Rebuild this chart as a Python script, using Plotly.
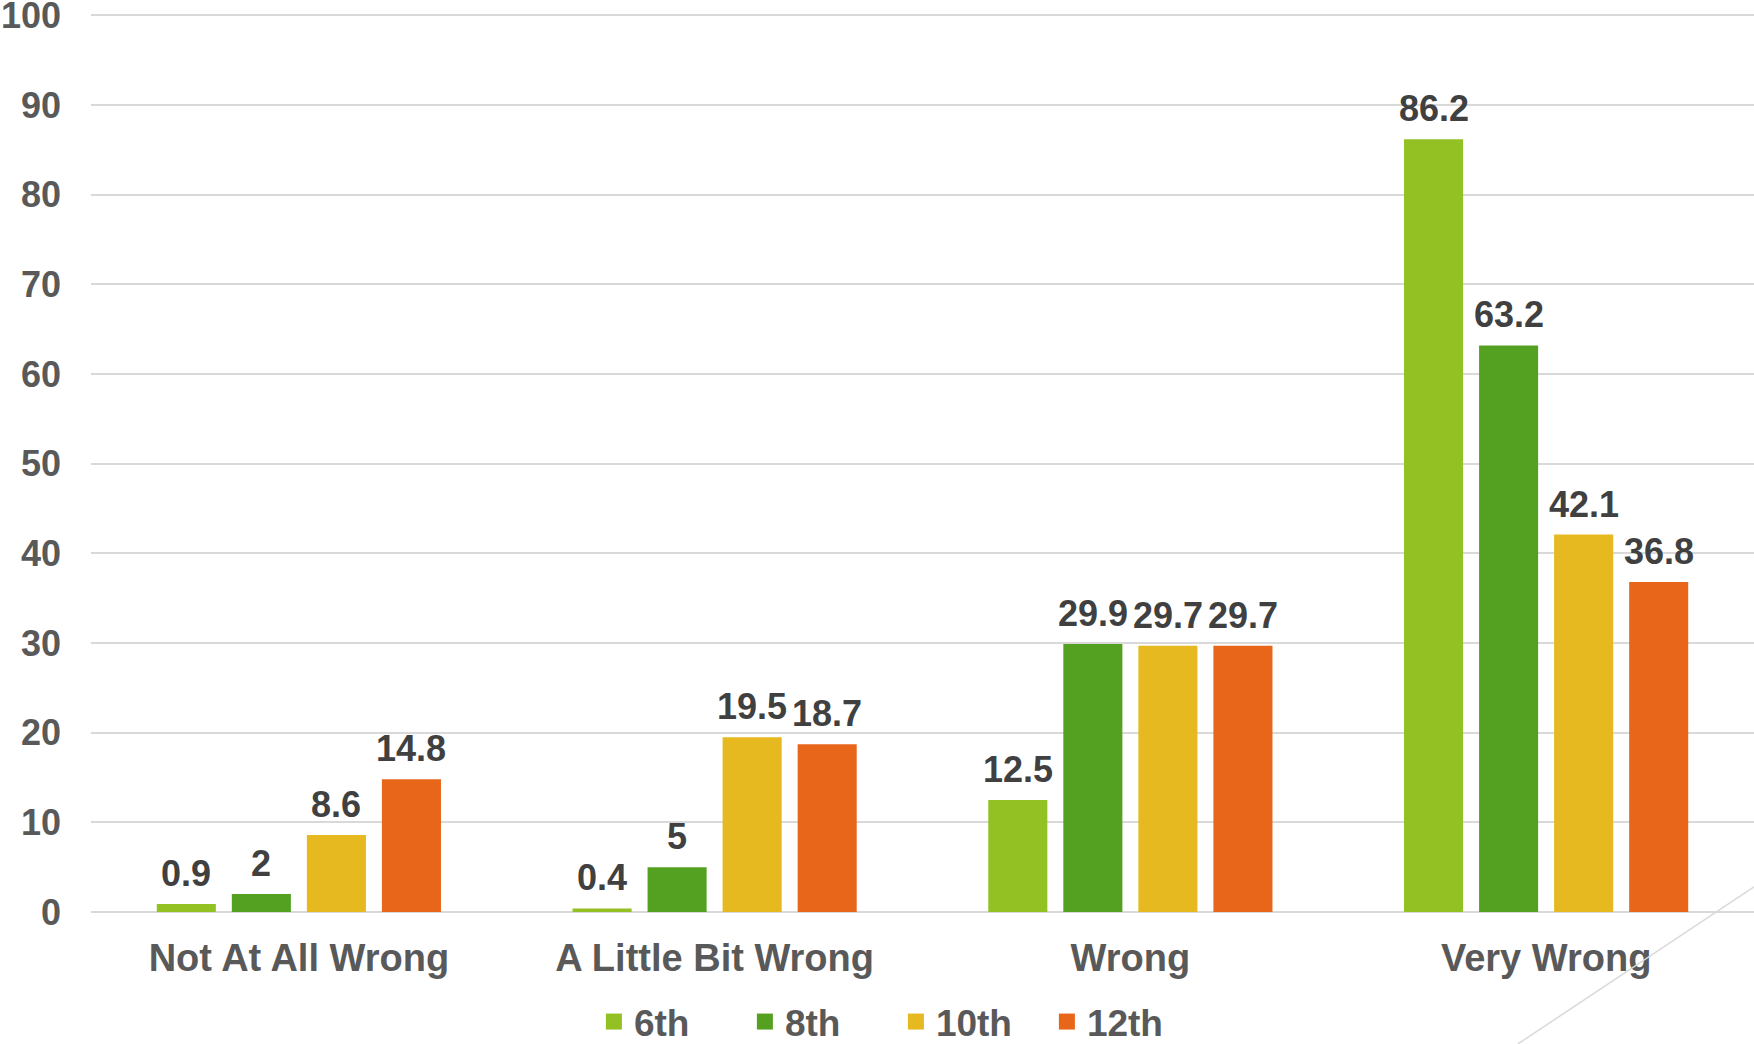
import plotly.graph_objects as go

categories = ["Not At All Wrong", "A Little Bit Wrong", "Wrong", "Very Wrong"]
grades = ["6th", "8th", "10th", "12th"]
values_6th = [0.9, 0.4, 12.5, 86.2]
values_8th = [2, 5, 29.9, 63.2]
values_10th = [8.6, 19.5, 29.7, 42.1]
values_12th = [14.8, 18.7, 29.7, 36.8]
y_ticks = [0, 10, 20, 30, 40, 50, 60, 70, 80, 90, 100]

colors = ["#93C123", "#54A122", "#E5B91F", "#E8661A"]
FONT = "Arial, Liberation Sans, sans-serif"

W, H = 1754, 1044
ML, MR, MT, MB = 91, 0, 11, 132
BARGAP, GROUPGAP = 0.278, 0.213

fig = go.Figure()
series = [values_6th, values_8th, values_10th, values_12th]
for name, vals, col in zip(grades, series, colors):
    fig.add_trace(go.Bar(
        x=categories, y=vals, name=name, legendgroup=name, showlegend=False,
        marker=dict(color=col, line=dict(width=0)),
    ))
    # legend swatch (bigger square than the default bar icon)
    fig.add_trace(go.Scatter(
        x=[None], y=[None], mode="markers", name=name, legendgroup=name,
        marker=dict(symbol="square", size=16, color=col),
    ))

# value labels above each bar, shifted to the bar's slot inside its group
cat_px = (W - ML - MR) / len(categories)
slot_px = cat_px * (1 - BARGAP) / len(grades)
annotations = []
for i, vals in enumerate(series):
    shift = (i - (len(grades) - 1) / 2) * slot_px
    for c, v in zip(categories, vals):
        annotations.append(dict(
            x=c, y=v, text=f"{v:g}", showarrow=False, xshift=shift, yshift=8,
            yanchor="bottom", font=dict(family=FONT, size=36, color="#404040", weight="bold"),
        ))

fig.update_layout(
    width=W, height=H, barmode="group", bargap=BARGAP, bargroupgap=GROUPGAP,
    paper_bgcolor="white", plot_bgcolor="white",
    margin=dict(l=ML, r=MR, t=MT, b=MB, autoexpand=False),
    font=dict(family=FONT, color="#595959"),
    xaxis=dict(tickfont=dict(size=38, weight="bold", color="#595959"), automargin=False,
               showgrid=False, showline=False, ticklabelstandoff=20),
    yaxis=dict(range=[0, 100.5], tickvals=y_ticks, showgrid=True, gridcolor="#D9D9D9", gridwidth=1.5,
               zeroline=True, zerolinecolor="#D9D9D9", zerolinewidth=2, automargin=False,
               ticklabeloverflow="allow",
               tickfont=dict(size=36, weight="bold", color="#595959"), ticklabelstandoff=29),
    legend=dict(orientation="h", x=0.484, xanchor="center", y=-0.1221, yanchor="middle",
                font=dict(size=37, weight="bold", color="#595959"), traceorder="normal",
                entrywidth=106, itemwidth=30),
    annotations=annotations,
    shapes=[dict(type="line", xref="paper", yref="paper", x0=1.0, y0=0.0279, x1=0.858, y1=-0.1465,
                 line=dict(color="#D9D9D9", width=1.5))],
)

fig.write_html("out.html", config={"displayModeBar": False},
               post_script="document.body.style.margin='0';")
